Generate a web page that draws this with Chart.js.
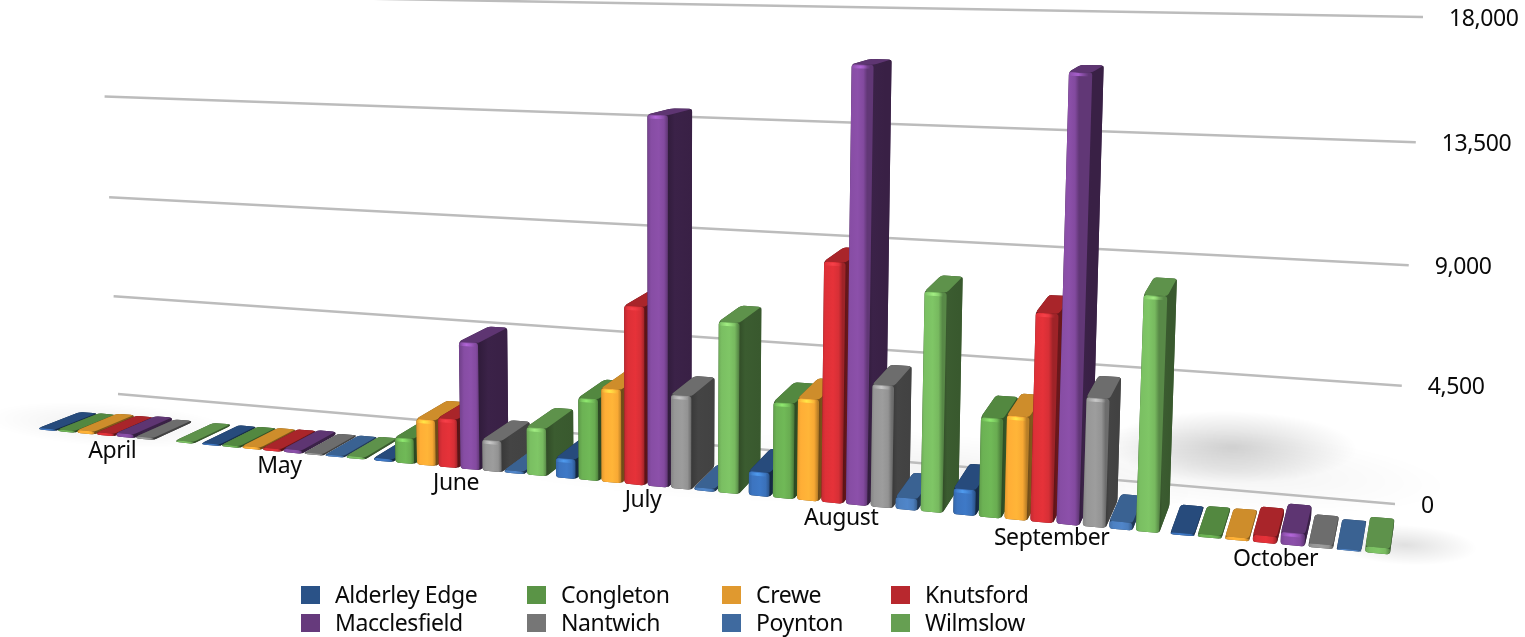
<!DOCTYPE html>
<html>
<head>
<meta charset="utf-8">
<title>Visits by town</title>
<script src="https://cdn.jsdelivr.net/npm/chart.js@4"></script>
<style>
  html, body { margin: 0; padding: 0; background: #fff; }
  canvas { display: block; }
</style>
</head>
<body>
<canvas id="chart" width="1525" height="637"></canvas>
<script>
const months = ['April', 'May', 'June', 'July', 'August', 'September', 'October'];

const alderleyEdge = [60, 60, 100, 740, 890, 930, 70];
const congleton = [70, 70, 985, 3090, 3510, 3550, 100];
const crewe = [120, 90, 1770, 3520, 3720, 3680, 100];
const knutsford = [100, 100, 1880, 6650, 8700, 7350, 240];
const macclesfield = [150, 130, 4870, 13650, 15650, 15600, 430];
const nantwich = [80, 60, 1190, 3480, 4420, 4530, 130];
const poynton = [null, 60, 100, 110, 420, 270, 40];
const wilmslow = [70, 80, 1820, 6300, 7850, 8180, 200];

const towns = ['Alderley Edge', 'Congleton', 'Crewe', 'Knutsford', 'Macclesfield', 'Nantwich', 'Poynton', 'Wilmslow'];
const townValues = [alderleyEdge, congleton, crewe, knutsford, macclesfield, nantwich, poynton, wilmslow];
const townColors = ['#2a5287', '#5a9446', '#e0992f', '#b8282e', '#663a7c', '#767676', '#3f6a9f', '#669f52'];
const frontLift = [1.42, 1.2, 1.14, 1.2, 1.32, 1.28, 1.22, 1.2];

const tickStep = 4500;
const tickMax = 18000;
const textFont = '23px "Noto Sans"';

// Maps the unit square onto a quad, corners given as (0,0) (1,0) (1,1) (0,1)
function quadMap(p0, p1, p2, p3) {
	const dx1 = p1[0] - p2[0], dx2 = p3[0] - p2[0], sx = p0[0] - p1[0] + p2[0] - p3[0];
	const dy1 = p1[1] - p2[1], dy2 = p3[1] - p2[1], sy = p0[1] - p1[1] + p2[1] - p3[1];
	const den = dx1 * dy2 - dx2 * dy1;
	const g = (sx * dy2 - dx2 * sy) / den;
	const h = (dx1 * sy - sx * dy1) / den;
	const a = p1[0] - p0[0] + g * p1[0], b = p3[0] - p0[0] + h * p3[0];
	const d = p1[1] - p0[1] + g * p1[1], e = p3[1] - p0[1] + h * p3[1];
	return (u, v) => {
		const w = g * u + h * v + 1;
		return [(a * u + b * v + p0[0]) / w, (d * u + e * v + p0[1]) / w];
	};
}

// Perspective planes: the back wall, the front of the bars and the back of the bars
const wallPlane = quadMap([118, 394], [1395, 504], [1423, 17], [100, -6]);
const frontPlane = quadMap([35, 429], [1396, 555], [1424, 6], [16, -19]);
const backPlane = quadMap([76, 413], [1400, 525], [1425, 0], [60, -15]);

function project(u, v, z) {
	const f = frontPlane(u, v), b = backPlane(u, v);
	return [f[0] + (b[0] - f[0]) * z, f[1] + (b[1] - f[1]) * z];
}

function shade(hex, k) {
	const n = parseInt(hex.slice(1), 16);
	const c = [n >> 16, (n >> 8) & 255, n & 255].map(v => Math.min(255, Math.round(v * k)));
	return `rgb(${c[0]},${c[1]},${c[2]})`;
}

// Polygon with its corners cut by a small curve, radius capped by the edge lengths
function fillRounded(ctx, pts, radius, fill) {
	const n = pts.length;
	const toward = (p, q, r) => {
		const len = Math.hypot(q[0] - p[0], q[1] - p[1]) || 1;
		const d = Math.min(r, len * 0.4);
		return [p[0] + (q[0] - p[0]) * d / len, p[1] + (q[1] - p[1]) * d / len];
	};
	ctx.beginPath();
	for (let i = 0; i < n; i++) {
		const p = pts[i], prev = pts[(i + n - 1) % n], next = pts[(i + 1) % n];
		const a = toward(p, prev, radius), b = toward(p, next, radius);
		if (i === 0) ctx.moveTo(a[0], a[1]);
		else ctx.lineTo(a[0], a[1]);
		ctx.quadraticCurveTo(p[0], p[1], b[0], b[1]);
	}
	ctx.closePath();
	ctx.fillStyle = fill;
	ctx.fill();
}

function softShadow(ctx, cx, cy, rx, ry, rot, alpha) {
	ctx.save();
	ctx.translate(cx, cy);
	ctx.rotate(rot);
	ctx.scale(rx, ry);
	const g = ctx.createRadialGradient(0, 0, 0, 0, 0, 1);
	g.addColorStop(0, `rgba(0,0,0,${alpha})`);
	g.addColorStop(0.5, `rgba(0,0,0,${alpha * 0.5})`);
	g.addColorStop(1, 'rgba(0,0,0,0)');
	ctx.fillStyle = g;
	ctx.beginPath();
	ctx.arc(0, 0, 1, 0, Math.PI * 2);
	ctx.fill();
	ctx.restore();
}

function drawFloor(ctx) {
	softShadow(ctx, 1232, 447, 125, 36, 0.02, 0.17);
	softShadow(ctx, 1230, 470, 220, 40, 0.08, 0.05);
	softShadow(ctx, 1405, 545, 72, 20, 0.05, 0.12);
	softShadow(ctx, 110, 425, 125, 22, 0.06, 0.06);
	softShadow(ctx, 950, 470, 250, 36, 0.1, 0.05);
	softShadow(ctx, 640, 465, 240, 30, 0.1, 0.03);
}

function drawGrid(ctx, chart) {
	const yScale = chart.scales.y;
	const area = chart.chartArea;
	ctx.font = textFont;
	ctx.letterSpacing = '-0.4px';
	ctx.textBaseline = 'middle';
	ctx.textAlign = 'left';
	yScale.ticks.forEach(tick => {
		const v = (area.bottom - yScale.getPixelForValue(tick.value)) / area.height;
		const a = wallPlane(0, v), b = wallPlane(1, v);
		ctx.beginPath();
		ctx.moveTo(a[0], a[1]);
		ctx.lineTo(b[0], b[1]);
		ctx.strokeStyle = '#bcbcbc';
		ctx.lineWidth = 2.5;
		ctx.stroke();
		ctx.fillStyle = '#0a0a0a';
		ctx.fillText(tick.label, b[0] + 26, b[1] + 2);
	});
}

function drawBar(ctx, el, color, lift, area) {
	const u0 = (el.x - el.width / 2 - area.left) / area.width;
	const u1 = (el.x + el.width / 2 - area.left) / area.width;
	const v = (area.bottom - el.y) / area.height;

	const fl0 = project(u0, 0, 0), fr0 = project(u1, 0, 0), br0 = project(u1, 0, 1);
	const flT = project(u0, v, 0), frT = project(u1, v, 0);
	const blT = project(u0, v, 1), brT = project(u1, v, 1);

	// whole outline first, the faces are rounded and would leave gaps at the joins
	fillRounded(ctx, [fl0, flT, blT, brT, br0, fr0], 3, shade(color, 0.58));

	const sideFill = ctx.createLinearGradient(fr0[0], 0, br0[0] + 0.01, 0);
	sideFill.addColorStop(0, shade(color, 0.48));
	sideFill.addColorStop(0.3, shade(color, 0.58));
	sideFill.addColorStop(1, shade(color, 0.56));
	fillRounded(ctx, [frT, brT, br0, fr0], 2, sideFill);
	fillRounded(ctx, [flT, frT, brT, blT], 3, shade(color, 0.92));

	// front face is shaded across its width so the edges look rounded
	const frontFill = ctx.createLinearGradient(fl0[0], 0, fr0[0], 0);
	frontFill.addColorStop(0, shade(color, lift * 0.88));
	frontFill.addColorStop(0.18, shade(color, lift));
	frontFill.addColorStop(0.55, shade(color, lift * 1.04));
	frontFill.addColorStop(0.82, shade(color, lift * 0.97));
	frontFill.addColorStop(1, shade(color, lift * 0.72));
	fillRounded(ctx, [flT, frT, fr0, fl0], 3, frontFill);

	// bright bevel along the top edge on anything tall enough to show one
	if (fl0[1] - flT[1] > 12) {
		const hl = ctx.createLinearGradient(flT[0], 0, frT[0], 0);
		const glow = shade(color, lift * 1.45);
		hl.addColorStop(0, glow.replace('rgb', 'rgba').replace(')', ',0)'));
		hl.addColorStop(0.4, glow);
		hl.addColorStop(0.85, glow.replace('rgb', 'rgba').replace(')', ',0)'));
		ctx.save();
		ctx.globalAlpha = 0.7;
		ctx.beginPath();
		ctx.moveTo(flT[0], flT[1] + 1);
		ctx.lineTo(frT[0], frT[1] + 1);
		ctx.lineTo(frT[0], frT[1] + 4);
		ctx.lineTo(flT[0], flT[1] + 4);
		ctx.closePath();
		ctx.fillStyle = hl;
		ctx.fill();
		ctx.restore();
	}
}

function drawMonths(ctx, chart) {
	const xScale = chart.scales.x;
	const area = chart.chartArea;
	ctx.font = textFont;
	ctx.letterSpacing = '-0.4px';
	ctx.fillStyle = '#0a0a0a';
	ctx.textAlign = 'center';
	ctx.textBaseline = 'middle';
	chart.data.labels.forEach((label, i) => {
		const u = (xScale.getPixelForValue(i) - area.left) / area.width;
		const p = frontPlane(u, 0);
		ctx.fillText(label, p[0] - 3, p[1] + 15);
	});
}

const legendColumns = [301, 527, 722, 891];
const legendRows = [595, 623];

function drawLegend(ctx, chart) {
	ctx.font = textFont;
	ctx.letterSpacing = '-0.4px';
	ctx.textAlign = 'left';
	ctx.textBaseline = 'middle';
	chart.data.datasets.forEach((ds, i) => {
		const x = legendColumns[i % 4];
		const y = legendRows[Math.floor(i / 4)];
		ctx.fillStyle = ds.backgroundColor;
		ctx.fillRect(x, y - 9, 19, 18);
		ctx.fillStyle = '#0a0a0a';
		ctx.fillText(ds.label, x + 34, y + 1);
	});
}

const perspectiveBars = {
	id: 'perspectiveBars',
	beforeDatasetsDraw(chart) {
		const ctx = chart.ctx;
		ctx.save();
		drawFloor(ctx);
		drawGrid(ctx, chart);
		// left to right, so each bar covers the side of the one before it
		chart.data.labels.forEach((label, m) => {
			chart.data.datasets.forEach((ds, t) => {
				if (ds.data[m] == null) return;
				drawBar(ctx, chart.getDatasetMeta(t).data[m], ds.backgroundColor, frontLift[t], chart.chartArea);
			});
		});
		drawMonths(ctx, chart);
		drawLegend(ctx, chart);
		ctx.restore();
		return false;
	}
};

new Chart(document.getElementById('chart'), {
	type: 'bar',
	data: {
		labels: months,
		datasets: towns.map((name, i) => ({
			label: name,
			data: townValues[i],
			backgroundColor: townColors[i],
			categoryPercentage: 0.965,
			barPercentage: 0.86
		}))
	},
	options: {
		responsive: false,
		animation: false,
		layout: { padding: 0 },
		plugins: { legend: { display: false }, tooltip: { enabled: false } },
		scales: {
			x: { display: false },
			y: { display: false, min: 0, max: tickMax, ticks: { stepSize: tickStep } }
		}
	},
	plugins: [perspectiveBars]
});
</script>
</body>
</html>
